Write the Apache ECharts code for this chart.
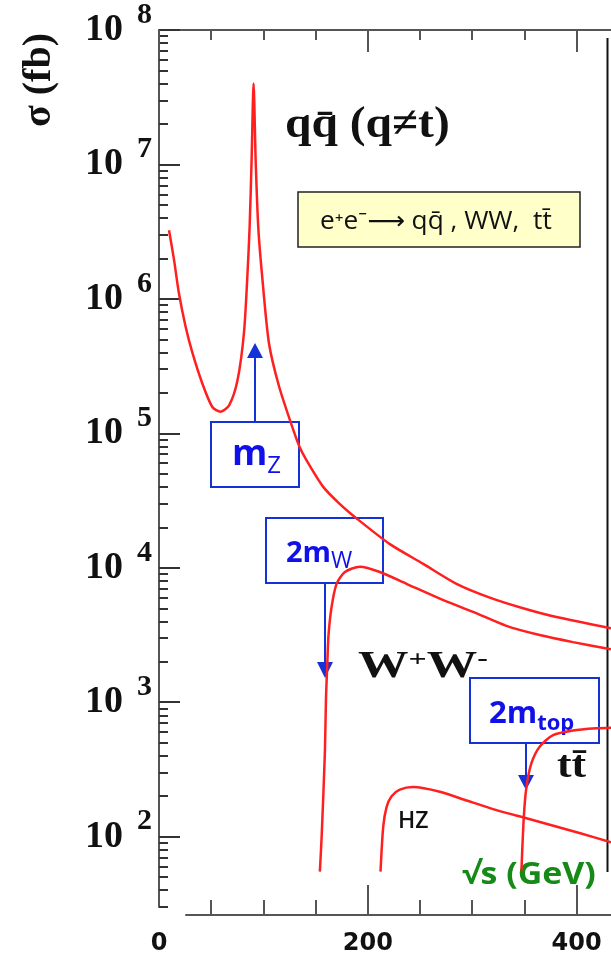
<!DOCTYPE html>
<html><head><meta charset="utf-8">
<script src="https://cdn.jsdelivr.net/npm/echarts@6/dist/echarts.min.js"></script>
<style>html,body{margin:0;padding:0;background:#fff}#c{width:611px;height:954px}</style>
</head><body><div id="c"></div>
<script>
// ---- data ----
const qqS = [9.6, 14.4, 19.1, 25.5, 31.9, 41.5, 51.1, 59.0, 67.3, 75.3, 81.4, 84.6, 86.8, 88.7, 90.6, 92.6, 95.1, 98.9, 105.3, 114.9, 127.6, 135.0, 144.6, 157.3, 173.3, 189.3, 221.2, 253.1, 285.0, 316.9, 348.8, 380.7, 433];
const qqSigma = [3.24e6, 1.95e6, 1.1e6, 6.2e5, 4.0e5, 2.35e5, 1.57e5, 1.45e5, 1.62e5, 2.5e5, 5.6e5, 1.45e6, 3.4e6, 1.07e7, 4.0e7, 1.07e7, 3.4e6, 1.45e6, 4.7e5, 2.25e5, 1.12e5, 7.8e4, 5.7e4, 4.0e4, 2.98e4, 2.33e4, 1.5e4, 1.07e4, 7.6e3, 6.0e3, 5.0e3, 4.3e3, 3.55e3];
const wwS = [154.1, 155.8, 158.9, 160.0, 161.2, 162.3, 165.3, 170.1, 178.1, 192.4, 211.6, 237.1, 269.0, 300.9, 332.8, 364.7, 396.6, 433];
const wwSigma = [55, 100, 420, 1100, 1900, 3100, 5100, 7600, 9300, 10200, 9300, 7600, 5900, 4700, 3700, 3160, 2800, 2480];
const hzS = [212.2, 214.8, 218.0, 222.8, 230.7, 243.5, 269.0, 294.6, 326.5, 352.0, 403.6, 433];
const hzSigma = [55, 119, 166, 200, 224, 234, 216, 186, 155, 137, 106, 91];
const ttS = [347.2, 349.5, 352.0, 356.8, 364.8, 377.5, 396.7, 419.0, 433];
const ttSigma = [56, 141, 234, 352, 468, 570, 617, 640, 646];

// ---- axis ticks / labels ----
const yMajorExp = [2, 3, 4, 5, 6, 7, 8];
const yMinorMult = [2, 3, 4, 5, 6, 7, 8, 9];
const yMinorExp = [1, 2, 3, 4, 5, 6, 7];
const xLabelValues = [0, 200, 400];
const xMajorTicks = [200, 400];
const xMinorTicks = [50, 100, 150, 250, 300, 350];
const xTopMajor = [0, 200, 400];

const yMajorVals = yMajorExp.map(e => Math.pow(10, e));
const yMinorVals = [];
yMinorExp.forEach(e => yMinorMult.forEach(m => yMinorVals.push(m * Math.pow(10, e))));

const zip = (a, b) => a.map((v, i) => [v, b[i]]);

const X_MIN = 0, X_MAX = 433, Y_MIN = 30, Y_MAX = 1e8;
const AX = '#555';
const RED = '#ff1f1f';
const BLUE = '#1432d8';
const TXT_BLUE = '#1010e8';

const chart = echarts.init(document.getElementById('c'), null, {renderer: 'canvas'});

function lineSeries(name, xs, ys) {
  return {
    name, type: 'line', xAxisIndex: 0, yAxisIndex: 0,
    data: zip(xs, ys), showSymbol: false, symbol: 'none',
    smooth: 0.25,
    lineStyle: {color: RED, width: 2.5}, silent: true, animation: false
  };
}

const serif = 'Liberation Serif, Times New Roman, serif';
const sans = 'Open Sans, Noto Sans, DejaVu Sans, sans-serif';

const option = {
  animation: false,
  backgroundColor: '#fff',
  grid: [
    {left: 159, top: 30, width: 452, height: 877, outerBoundsMode: 'none', containLabel: false},
    {left: 159, top: 905, width: 452, height: 10, outerBoundsMode: 'none', containLabel: false},
    {left: 186, top: 905, width: 425, height: 10, outerBoundsMode: 'none', containLabel: false}
  ],
  xAxis: [
    {gridIndex: 0, type: 'value', position: 'top', min: X_MIN, max: X_MAX,
     axisLine: {show: true, onZero: false, lineStyle: {color: AX, width: 2}},
     axisTick: {show: true, inside: true, length: 22, customValues: xTopMajor, lineStyle: {color: AX, width: 2}},
     axisLabel: {show: false}, splitLine: {show: false}},
    {gridIndex: 0, type: 'value', position: 'top', min: X_MIN, max: X_MAX,
     axisLine: {show: false, onZero: false},
     axisTick: {show: true, inside: true, length: 10, customValues: xMinorTicks, lineStyle: {color: AX, width: 2}},
     axisLabel: {show: false}, splitLine: {show: false}},
    {gridIndex: 1, type: 'value', position: 'bottom', min: X_MIN, max: X_MAX,
     axisLine: {show: false, onZero: false}, axisTick: {show: false},
     axisLabel: {show: true, customValues: xLabelValues, margin: 17, color: '#111',
       fontFamily: 'DejaVu Sans', fontWeight: 'bold', fontSize: 24},
     splitLine: {show: false}},
    {gridIndex: 2, type: 'value', position: 'bottom', min: X_MIN + (186 - 159) * X_MAX / 452, max: X_MAX,
     axisLine: {show: true, onZero: false, lineStyle: {color: AX, width: 2}},
     axisTick: {show: true, inside: true, length: 30, customValues: xMajorTicks, lineStyle: {color: AX, width: 2}},
     axisLabel: {show: false}, splitLine: {show: false}},
    {gridIndex: 2, type: 'value', position: 'bottom', min: X_MIN + (186 - 159) * X_MAX / 452, max: X_MAX,
     axisLine: {show: false, onZero: false},
     axisTick: {show: true, inside: true, length: 15, customValues: xMinorTicks, lineStyle: {color: AX, width: 2}},
     axisLabel: {show: false}, splitLine: {show: false}}
  ],
  yAxis: [
    {gridIndex: 0, type: 'log', logBase: 10, position: 'left', min: Y_MIN, max: Y_MAX,
     axisLine: {show: true, onZero: false, lineStyle: {color: AX, width: 2}},
     axisTick: {show: true, inside: true, length: 21, customValues: yMajorVals, lineStyle: {color: '#333', width: 2}},
     axisLabel: {show: true, customValues: yMajorVals, margin: 7,
       formatter: v => '{b|10}{e|' + Math.round(Math.log10(v)) + '}',
       rich: {
         b: {fontFamily: serif, fontWeight: 'bold', fontSize: 38, lineHeight: 36, color: '#111'},
         e: {fontFamily: serif, fontWeight: 'bold', fontSize: 30, lineHeight: 28, padding: [0, 0, 30, 14], color: '#111'}
       }},
     splitLine: {show: false}},
    {gridIndex: 0, type: 'log', logBase: 10, position: 'left', min: Y_MIN, max: Y_MAX,
     axisLine: {show: false, onZero: false},
     axisTick: {show: true, inside: true, length: 9, customValues: yMinorVals, lineStyle: {color: '#333', width: 2}},
     axisLabel: {show: false}, splitLine: {show: false}},
    {gridIndex: 1, type: 'value', show: false, min: 0, max: 1},
    {gridIndex: 2, type: 'value', show: false, min: 0, max: 1}
  ],
  series: [
    lineSeries('qq', qqS, qqSigma),
    lineSeries('WW', wwS, wwSigma),
    lineSeries('HZ', hzS, hzSigma),
    lineSeries('tt', ttS, ttSigma)
  ],
  graphic: [
    {type: 'text', x: 40, y: 80, rotation: Math.PI / 2,
     style: {text: 'σ (fb)', x: 0, y: 0, align: 'center', verticalAlign: 'middle',
       font: 'bold 40px ' + serif, fill: '#111'}},
    {type: 'line', shape: {x1: 607.5, y1: 38, x2: 607.5, y2: 872}, style: {stroke: '#111', lineWidth: 2}},
    {type: 'text', x: 285, y: 126, scaleX: 1.08,
     style: {text: 'qq\u0304 (q≠t)', x: 0, y: 0, align: 'left', verticalAlign: 'middle',
       font: 'bold 44px ' + serif, fill: '#111'}},
    {type: 'rect', shape: {x: 298, y: 192, width: 282, height: 55},
     style: {fill: '#ffffc9', stroke: '#222', lineWidth: 1.5}},
    {type: 'text', x: 320, y: 222, scaleX: 1.05,
     style: {text: 'e\u207Ae\u207B\u27F6 qq\u0304 , WW,  tt\u0304', x: 0, y: 0, align: 'left', verticalAlign: 'middle',
       font: '25px ' + sans, fill: '#111'}},
    {type: 'rect', shape: {x: 211, y: 422, width: 88, height: 65}, style: {fill: 'none', stroke: BLUE, lineWidth: 2}},
    {type: 'line', shape: {x1: 255, y1: 422, x2: 255, y2: 356}, style: {stroke: BLUE, lineWidth: 2}},
    {type: 'polygon', shape: {points: [[247, 358], [263, 358], [255, 343]]}, style: {fill: BLUE}},
    {type: 'text', x: 232, y: 458,
     style: {text: '{m|m}{s|Z}', x: 0, y: 0, align: 'left', verticalAlign: 'middle',
       rich: {m: {font: 'bold 36px ' + sans, fill: TXT_BLUE, lineHeight: 40, padding: [0, 0, 5, 0], verticalAlign: 'bottom'},
              s: {font: '24px ' + sans, fill: TXT_BLUE, lineHeight: 24, verticalAlign: 'bottom'}}}},
    {type: 'rect', shape: {x: 266, y: 518, width: 117, height: 65}, style: {fill: 'none', stroke: BLUE, lineWidth: 2}},
    {type: 'line', shape: {x1: 325, y1: 583, x2: 325, y2: 664}, style: {stroke: BLUE, lineWidth: 2}},
    {type: 'polygon', shape: {points: [[317, 662], [333, 662], [325, 678]]}, style: {fill: BLUE}},
    {type: 'text', x: 286, y: 556,
     style: {text: '{m|2m}{s|W}', x: 0, y: 0, align: 'left', verticalAlign: 'middle',
       rich: {m: {font: 'bold 29px ' + sans, fill: TXT_BLUE, lineHeight: 34, padding: [0, 0, 5, 0], verticalAlign: 'bottom'},
              s: {font: '23px ' + sans, fill: TXT_BLUE, lineHeight: 22, verticalAlign: 'bottom'}}}},
    {type: 'rect', shape: {x: 470, y: 678, width: 129, height: 65}, style: {fill: 'none', stroke: BLUE, lineWidth: 2}},
    {type: 'line', shape: {x1: 526, y1: 743, x2: 526, y2: 777}, style: {stroke: BLUE, lineWidth: 2}},
    {type: 'polygon', shape: {points: [[518, 775], [534, 775], [526, 790]]}, style: {fill: BLUE}},
    {type: 'text', x: 489, y: 718,
     style: {text: '{m|2m}{s|top}', x: 0, y: 0, align: 'left', verticalAlign: 'middle',
       rich: {m: {font: 'bold 31px ' + sans, fill: TXT_BLUE, lineHeight: 34, padding: [0, 0, 5, 0], verticalAlign: 'bottom'},
              s: {font: 'bold 22px ' + sans, fill: TXT_BLUE, lineHeight: 22, verticalAlign: 'bottom'}}}},
    {type: 'text', x: 358, y: 667, scaleX: 1.33,
     style: {text: '{w|W}{p|+}{w|W}{p|-}', x: 0, y: 0, align: 'left', verticalAlign: 'middle',
       rich: {w: {font: 'bold 38px ' + serif, fill: '#111', lineHeight: 38, verticalAlign: 'bottom'},
              p: {font: 'bold 24px ' + serif, fill: '#111', lineHeight: 24, verticalAlign: 'top'}}}},
    {type: 'text', x: 557, y: 767, scaleX: 1.15,
     style: {text: 'tt\u0304', x: 0, y: 0, align: 'left', verticalAlign: 'middle',
       font: 'bold 38px ' + serif, fill: '#111'}},
    {type: 'text', x: 398, y: 821,
     style: {text: 'HZ', x: 0, y: 0, align: 'left', verticalAlign: 'middle',
       font: '600 23px ' + sans, fill: '#111'}},
    {type: 'text', x: 462, y: 875, scaleX: 1.13,
     style: {text: '√s (GeV)', x: 0, y: 0, align: 'left', verticalAlign: 'middle',
       font: 'bold 30px ' + sans, fill: '#168a16'}}
  ]
};
chart.setOption(option);
</script>
</body></html>
